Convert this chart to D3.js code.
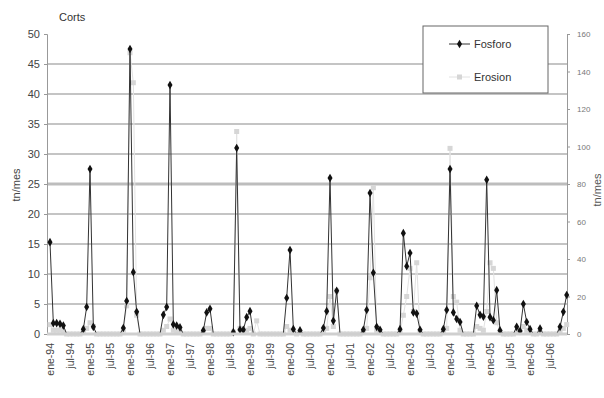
<!DOCTYPE html>
<html>
<head>
<meta charset="utf-8">
<script src="https://cdn.jsdelivr.net/npm/d3@7"></script>
<style>
  body { margin: 0; background: #fff; }
  svg { font-family: "Liberation Sans", Arial, sans-serif; }
</style>
</head>
<body>
<div id="chart"></div>
<script>
// monthly values, ene-94 .. dic-06 (one row per year)
const fosforo = [
  15.3, 1.8, 1.8, 1.7, 1.4, 0, 0, 0, 0, 0, 0.8, 4.5,
  27.5, 1.2, 0, 0, 0, 0, 0, 0, 0, 0, 1.0, 5.5,
  47.5, 10.3, 3.7, 0, 0, 0, 0, 0, 0, 0, 3.2, 4.5,
  41.5, 1.6, 1.4, 1.1, 0, 0, 0, 0, 0, 0, 0.6, 3.6,
  4.2, 0, 0, 0, 0, 0, 0, 0.3, 31.0, 0.7, 0.7, 2.8,
  3.8, 0, 0, 0, 0, 0, 0, 0, 0, 0, 0, 6.0,
  14.0, 0.8, 0, 0.6, 0, 0, 0, 0, 0, 0, 1.0, 3.8,
  26.0, 2.2, 7.2, 0, 0, 0, 0, 0, 0, 0, 0.7, 4.0,
  23.5, 10.2, 1.2, 0.7, 0, 0, 0, 0, 0, 0.8, 16.8, 11.3,
  13.5, 3.6, 3.4, 0.7, 0, 0, 0, 0, 0, 0, 0.8, 4.0,
  27.5, 3.6, 2.5, 2.0, 0, 0, 0, 0, 4.7, 3.2, 2.9, 25.7,
  2.8, 2.3, 7.3, 0.6, 0, 0, 0, 0, 1.2, 0.5, 5.0, 2.0,
  0.8, 0, 0, 0.9, 0, 0, 0, 0, 0, 1.2, 3.7, 6.5
];
const erosion = [
  5, 2, 2, 2, 1, 0, 0, 0, 0, 0, 1, 3,
  6, 4, 0, 0, 0, 0, 0, 0, 0, 0, 2, 15,
  150, 134, 10, 0, 0, 0, 0, 0, 0, 0, 2, 4,
  8, 2, 1, 1, 0, 0, 0, 0, 0, 0, 1, 3,
  3, 0, 0, 0, 0, 0, 0, 1, 108, 3, 1, 2,
  3, 0, 7, 0, 0, 0, 0, 0, 0, 0, 0, 4,
  2, 1, 0, 1, 0, 0, 0, 0, 0, 0, 1, 3,
  20, 4, 23, 0, 0, 0, 0, 0, 0, 0, 1, 3,
  30, 78, 2, 1, 0, 0, 0, 0, 0, 1, 10, 20,
  35, 12, 38, 1, 0, 0, 0, 0, 0, 0, 1, 3,
  99, 20, 17, 2, 0, 0, 0, 0, 4, 3, 2, 12,
  38, 35, 6, 1, 0, 0, 0, 0, 1, 1, 4, 2,
  1, 0, 0, 1, 0, 0, 0, 0, 0, 1, 3, 5
];
const xTickLabels = [
  "ene-94", "jul-94", "ene-95", "jul-95", "ene-96", "jul-96", "ene-97", "jul-97",
  "ene-98", "jul-98", "ene-99", "jul-99", "ene-00", "jul-00", "ene-01", "jul-01",
  "ene-02", "jul-02", "ene-03", "jul-03", "ene-04", "jul-04", "ene-05", "jul-05",
  "ene-06", "jul-06"
];
const leftTicks = [0, 5, 10, 15, 20, 25, 30, 35, 40, 45, 50];
const rightTicks = [0, 20, 40, 60, 80, 100, 120, 140, 160];
const seriesNames = ["Fosforo", "Erosion"];

const width = 604, height = 398;
const svg = d3.select("#chart").append("svg")
  .attr("width", width).attr("height", height);

const x = d3.scaleLinear().domain([0, fosforo.length - 1]).range([50, 566.7]);
const yL = d3.scaleLinear().domain([0, 50]).range([334, 34]);
const yR = d3.scaleLinear().domain([0, 160]).range([334, 34]);

// gridlines
svg.append("g").selectAll("line")
  .data(leftTicks.filter(v => v > 0 && v < 50))
  .enter().append("line")
  .attr("x1", 47).attr("x2", 567)
  .attr("y1", d => yL(d)).attr("y2", d => yL(d))
  .attr("stroke", d => d === 25 ? "#bdbdbd" : "#8a8a8a")
  .attr("stroke-width", d => d === 25 ? 3 : 1.2);

// left axis
const gL = svg.append("g").attr("transform", "translate(47,0)")
  .call(d3.axisLeft(yL).tickValues(leftTicks).tickSize(3).tickPadding(4));
gL.select(".domain").attr("stroke", "#999");
gL.selectAll(".tick line").attr("stroke", "#999");
gL.selectAll("text").attr("font-size", 11).attr("fill", "#444");

// right axis
const gR = svg.append("g").attr("transform", "translate(567,0)")
  .call(d3.axisRight(yR).tickValues(rightTicks).tickSize(3).tickPadding(7));
gR.select(".domain").attr("stroke", "#999");
gR.selectAll(".tick line").attr("stroke", "#999");
gR.selectAll("text").attr("font-size", 8).attr("fill", "#777");

// x labels every 6 months
svg.append("g").selectAll("text")
  .data(xTickLabels)
  .enter().append("text")
  .attr("transform", (d, i) => `translate(${x(i * 6) + 3.5},343) rotate(-90)`)
  .attr("text-anchor", "end")
  .attr("font-size", 10.5)
  .attr("fill", "#444")
  .text(d => d);

// Erosion (secondary axis) - faint, thin
const lineR = d3.line().x((d, i) => x(i)).y(d => yR(d));
svg.append("path").datum(erosion)
  .attr("d", lineR).attr("fill", "none")
  .attr("stroke", "#e2e2e2").attr("stroke-width", 1);
svg.append("g").selectAll("rect")
  .data(erosion)
  .enter().append("rect")
  .attr("x", (d, i) => x(i) - 2.5).attr("y", d => yR(d) - 2.5)
  .attr("width", 5).attr("height", 5)
  .attr("fill", "#d6d6d6");

// Fosforo
const lineL = d3.line().x((d, i) => x(i)).y(d => yL(d));
svg.append("path").datum(fosforo)
  .attr("d", lineL).attr("fill", "none")
  .attr("stroke", "#333").attr("stroke-width", 1);
const diamond = d3.symbol().type(d3.symbolDiamond).size(22);
svg.append("g").selectAll("path")
  .data(fosforo)
  .enter().append("path")
  .attr("d", diamond)
  .attr("transform", (d, i) => `translate(${x(i)},${yL(d)})`)
  .attr("fill", "#111")
  .attr("opacity", d => d > 0 ? 1 : 0);

// baseline band
svg.append("line").attr("x1", 47).attr("x2", 567).attr("y1", 334).attr("y2", 334)
  .attr("stroke", "#cfcfcf").attr("stroke-width", 3);

// titles
svg.append("text").attr("x", 59).attr("y", 21)
  .attr("font-size", 11).attr("fill", "#333").text("Corts");
svg.append("text")
  .attr("transform", "translate(20,185) rotate(-90)")
  .attr("text-anchor", "middle").attr("font-size", 11).attr("fill", "#444")
  .text("tn/mes");
svg.append("text")
  .attr("transform", "translate(601,190) rotate(-90)")
  .attr("text-anchor", "middle").attr("font-size", 11).attr("fill", "#555")
  .text("tn/mes");

// legend
const lg = svg.append("g");
lg.append("rect").attr("x", 423).attr("y", 26).attr("width", 125).attr("height", 67)
  .attr("fill", "#fff").attr("stroke", "#666");
seriesNames.forEach((name, k) => {
  const ly = 44 + k * 33;
  const dark = k === 0;
  lg.append("line").attr("x1", 449).attr("x2", 470).attr("y1", ly).attr("y2", ly)
    .attr("stroke", dark ? "#333" : "#e2e2e2").attr("stroke-width", 1);
  if (dark) {
    lg.append("path").attr("d", diamond).attr("transform", `translate(459.5,${ly})`).attr("fill", "#111");
  } else {
    lg.append("rect").attr("x", 457).attr("y", ly - 2.5).attr("width", 5).attr("height", 5).attr("fill", "#d6d6d6");
  }
  lg.append("text").attr("x", 474).attr("y", ly + 4)
    .attr("font-size", 11).attr("fill", "#333").text(name);
});
</script>
</body>
</html>
